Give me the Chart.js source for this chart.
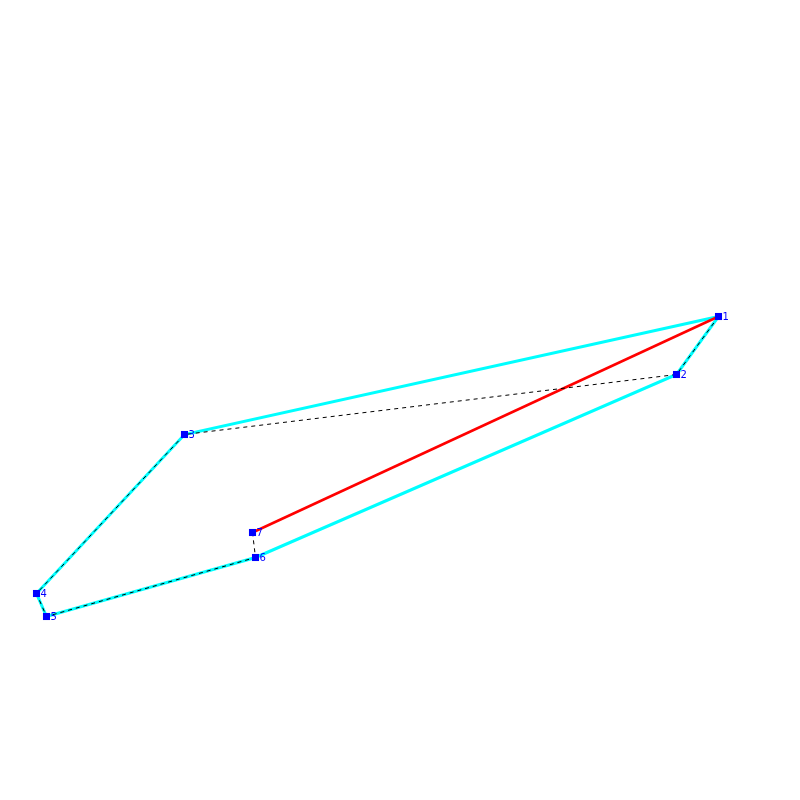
<!DOCTYPE html>
<html><head><meta charset="utf-8">
<style>html,body{margin:0;padding:0;background:#fff}canvas{display:block}</style>
<script src="https://cdn.jsdelivr.net/npm/chart.js@4"></script></head>
<body><canvas id="c" width="800" height="800" style="width:800px;height:800px"></canvas>
<script>
const pointLabels = ["1","2","3","4","5","6","7"];
const pointX = [718.5,676.5,184.5,36.5,46.5,255.5,252.5];
const pointY = [316.5,374.5,434.5,593.5,616.5,557.5,532.5];
const hullOrder = [0,2,3,4,5,1,0];
const redOrder = [6,0];
const pick = o => o.map(i => ({x:pointX[i], y:pointY[i]}));
const labelPlugin = {
  id:'labels',
  afterDatasetsDraw(chart){
    const {ctx,scales:{x,y}} = chart;
    ctx.save();
    ctx.fillStyle='#0000ff';ctx.font='10px "DejaVu Sans"';ctx.textBaseline='middle';ctx.textAlign='left';
    pointLabels.forEach((t,i)=>ctx.fillText(t,x.getPixelForValue(pointX[i])+4,y.getPixelForValue(pointY[i])+0.5));
    ctx.restore();
  }
};
new Chart(document.getElementById('c'),{
  type:'scatter',
  data:{datasets:[
    {data:pointX.map((v,i)=>({x:v,y:pointY[i]})),showLine:false,pointStyle:'rect',pointRadius:5,pointBackgroundColor:'#0000ff',pointBorderWidth:0,order:1},
    {data:pointX.map((v,i)=>({x:v,y:pointY[i]})),showLine:true,borderColor:'#000',borderWidth:1,borderDash:[4,4],pointRadius:0,order:2},
    {data:pick(redOrder),showLine:true,borderColor:'#ff0000',borderWidth:2.5,pointRadius:0,order:3},
    {data:pick(hullOrder),showLine:true,borderColor:'#00ffff',borderWidth:3,pointRadius:0,order:4}
  ]},
  options:{
    responsive:false,animation:false,
    layout:{padding:0,autoPadding:false},
    plugins:{legend:{display:false},tooltip:{enabled:false}},
    scales:{
      x:{type:'linear',min:0,max:800,display:false},
      y:{type:'linear',min:0,max:800,reverse:true,display:false}
    }
  },
  plugins:[labelPlugin]
});
</script></body></html>
